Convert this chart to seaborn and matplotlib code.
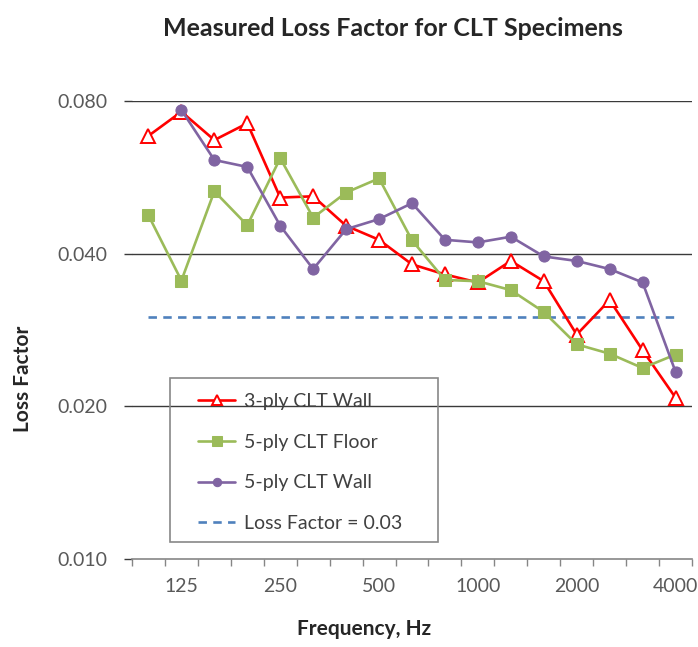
import matplotlib
matplotlib.use('Agg')
import matplotlib.pyplot as plt
import seaborn as sns
import pandas as pd
from matplotlib.ticker import FixedLocator, FixedFormatter, NullFormatter
from matplotlib.patches import Rectangle

# 1/3 octave band centre frequencies, Hz
freqs = [100, 125, 160, 200, 250, 315, 400, 500, 630, 800,
         1000, 1250, 1600, 2000, 2500, 3150, 4000]
tick_freqs = [125, 250, 500, 1000, 2000, 4000]

wall_3ply = [0.0683, 0.0762, 0.0670, 0.0723, 0.0516, 0.0519, 0.0454, 0.0426, 0.0381,
             0.0364, 0.0351, 0.0387, 0.0353, 0.0277, 0.0324, 0.0258, 0.0208]
floor_5ply = [0.0476, 0.0354, 0.0531, 0.0455, 0.0617, 0.0471, 0.0528, 0.0563, 0.0425,
              0.0355, 0.0353, 0.0339, 0.0307, 0.0265, 0.0254, 0.0238, 0.0253]
wall_5ply = [None, 0.0768, 0.0612, 0.0593, 0.0454, 0.0373, 0.0447, 0.0468, 0.0503,
             0.0426, 0.0421, 0.0432, 0.0395, 0.0387, 0.0373, 0.0351, 0.0234]
reference_lf = 0.03

sns.set_style('white')
plt.rcParams['font.family'] = ['Lato', 'DejaVu Sans']

df = pd.DataFrame({
    'pos': range(len(freqs)),
    'freq': freqs,
    '3-ply CLT Wall': wall_3ply,
    '5-ply CLT Floor': floor_5ply,
    '5-ply CLT Wall': wall_5ply,
})
df['Loss Factor = 0.03'] = reference_lf

fig = plt.figure(figsize=(6.98, 6.47), dpi=100)
ax = fig.add_axes([132 / 698, 1 - 559 / 647, 560 / 698, 458 / 647])

ax.set_yscale('log')
ax.set_ylim(0.01, 0.08)
ax.set_xlim(-0.5, len(freqs) - 0.5)

yt = [0.01, 0.02, 0.04, 0.08]
for v in yt[1:]:
    ax.axhline(v, color='#3a3a3a', lw=1.0, zorder=0)

sns.lineplot(data=df, x='pos', y='3-ply CLT Wall', ax=ax, color='#ff0000', lw=1.9,
             marker='^', markersize=10, markerfacecolor='white', markeredgecolor='#ff0000',
             markeredgewidth=1.4, label='3-ply CLT Wall', zorder=3)
sns.lineplot(data=df, x='pos', y='5-ply CLT Floor', ax=ax, color='#9bbb59', lw=1.9,
             marker='s', markersize=9, markeredgecolor='#9bbb59',
             label='5-ply CLT Floor', zorder=3)
sns.lineplot(data=df.dropna(subset=['5-ply CLT Wall']), x='pos', y='5-ply CLT Wall', ax=ax,
             color='#8064a2', lw=1.9, marker='o', markersize=8, markeredgecolor='#8064a2',
             label='5-ply CLT Wall', zorder=4)
sns.lineplot(data=df, x='pos', y='Loss Factor = 0.03', ax=ax, color='#4f81bd', lw=1.9,
             linestyle=(0, (3.2, 2.4)), label='Loss Factor = 0.03', zorder=2)

# y axis
ax.yaxis.set_major_locator(FixedLocator(yt))
ax.yaxis.set_major_formatter(FixedFormatter(['0.010', '0.020', '0.040', '0.080']))
ax.yaxis.set_minor_formatter(NullFormatter())
ax.yaxis.set_minor_locator(FixedLocator([]))
ax.tick_params(axis='y', which='major', direction='out', length=6, width=1,
               color='#3a3a3a', labelsize=14, labelcolor='#595959', pad=12, left=True)

# x axis: category style, labels centred, ticks at boundaries
ax.xaxis.set_major_locator(FixedLocator([freqs.index(f) for f in tick_freqs]))
ax.xaxis.set_major_formatter(FixedFormatter([str(f) for f in tick_freqs]))
ax.xaxis.set_minor_locator(FixedLocator([i - 0.5 for i in range(len(freqs) + 1)]))
ax.tick_params(axis='x', which='major', length=0, labelsize=14, labelcolor='#595959', pad=14)
ax.tick_params(axis='x', which='minor', direction='out', length=5, width=1,
               color='#868686', bottom=True)

for s in ['top', 'right', 'left']:
    ax.spines[s].set_visible(False)
ax.spines['bottom'].set_color('#868686')
ax.spines['bottom'].set_linewidth(1.2)

ax.set_xlabel('')
ax.set_ylabel('')
fig.text(364 / 698, 1 - 629 / 647, 'Frequency, Hz', fontsize=15, fontweight='bold',
         ha='center', va='center')
fig.text(23 / 698, 1 - 379 / 647, 'Loss Factor', fontsize=15, fontweight='bold',
         ha='center', va='center', rotation=90)
fig.text(393 / 698, 1 - 29 / 647, 'Measured Loss Factor for CLT Specimens', fontsize=18,
         fontweight='bold', ha='center', va='center')

# legend
leg = ax.legend(loc='upper left', bbox_to_anchor=((205 - 132) / 560 - 0.012, (559 - 393) / 458),
                frameon=False, fontsize=14, handlelength=1.9, handletextpad=0.45,
                labelspacing=1.22, borderaxespad=0, borderpad=0)
for h in leg.legend_handles:
    if h.get_marker() not in (None, 'None', ''):
        h.set_markersize(h.get_markersize() * 0.75)
for t in leg.get_texts():
    t.set_color('#404040')
fig.patches.append(Rectangle((170 / 698, 1 - 542 / 647), 268 / 698, 164 / 647,
                             transform=fig.transFigure, fill=False, edgecolor='#888888',
                             lw=1.2, zorder=5))

fig.savefig('out.png', dpi=100)
